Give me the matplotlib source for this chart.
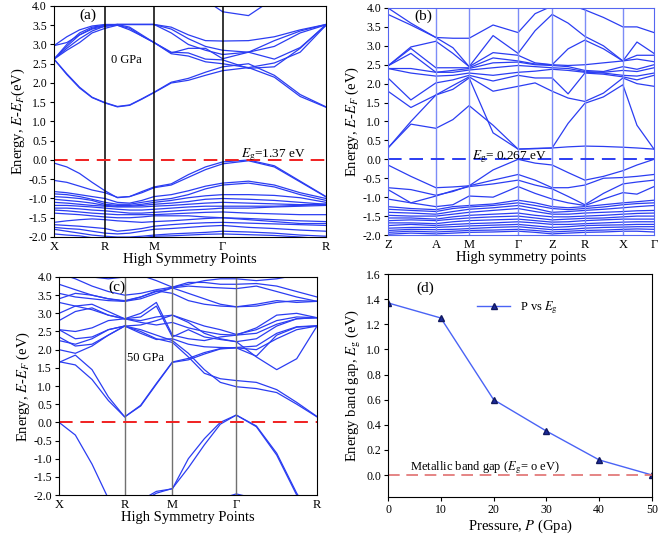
import numpy as np
import matplotlib
matplotlib.use("Agg")
import matplotlib.pyplot as plt

plt.rcParams['font.family'] = ['Liberation Serif', 'DejaVu Serif']
plt.rcParams['mathtext.fontset'] = 'stix'

# ---------- panel (a): 0 GPa ----------
a_sym = [0, 0.1875, 0.368, 0.62, 1.0]
a_sym_labels = ['X', 'R', 'M', 'Γ', 'R']
a_k = [0, 0.047, 0.094, 0.14, 0.1875, 0.233, 0.278, 0.323, 0.368,
       0.431, 0.494, 0.557, 0.62, 0.715, 0.81, 0.905, 1.0]
a_cond = [
    [2.62, 2.22, 1.87, 1.62, 1.48, 1.38, 1.42, 1.58, 1.75, 2.00, 2.07, 2.20, 2.32, 2.40, 2.15, 1.65, 1.37],
    [2.62, 2.24, 1.89, 1.63, 1.49, 1.39, 1.43, 1.59, 1.76, 2.02, 2.12, 2.28, 2.42, 2.50, 2.20, 1.70, 1.38],
    [2.62, 2.90, 3.15, 3.35, 3.48, 3.50, 3.38, 3.22, 3.05, 2.80, 2.78, 2.62, 2.60, 2.38, 2.42, 2.90, 3.52],
    [2.62, 3.00, 3.30, 3.45, 3.50, 3.52, 3.52, 3.52, 3.52, 3.45, 3.25, 3.10, 3.09, 3.10, 3.20, 3.38, 3.52],
    [2.97, 3.20, 3.38, 3.48, 3.52, 3.52, 3.52, 3.52, 3.52, 3.40, 3.15, 2.95, 2.85, 2.80, 3.10, 3.35, 3.52],
    [2.97, 3.05, 3.25, 3.42, 3.50, 3.52, 3.52, 3.52, 3.52, 3.30, 3.00, 2.85, 2.74, 2.80, 2.95, 3.30, 3.51],
    [2.62, 2.95, 3.25, 3.40, 3.47, 3.52, 3.45, 3.25, 3.05, 2.78, 2.90, 2.90, 2.63, 2.80, 2.62, 2.92, 3.50],
    [2.62, 2.85, 3.05, 3.30, 3.42, 3.50, 3.42, 3.22, 3.05, 2.76, 2.70, 2.55, 2.50, 2.40, 2.52, 2.80, 3.50],
    [4.60, 4.60, 4.60, 4.60, 4.60, 4.60, 4.60, 4.60, 4.60, 4.60, 4.40, 4.15, 3.85, 3.75, 4.20, 4.60, 4.60],
]
a_val = [
    [-0.08, -0.18, -0.35, -0.58, -0.80, -0.98, -0.95, -0.82, -0.70, -0.62, -0.38, -0.18, -0.05, 0.00, -0.15, -0.55, -0.95],
    [-0.53, -0.58, -0.68, -0.78, -0.85, -0.97, -0.95, -0.85, -0.72, -0.65, -0.45, -0.25, -0.10, -0.02, -0.18, -0.57, -0.96],
    [-0.82, -0.85, -0.90, -0.95, -1.00, -1.10, -1.12, -1.05, -0.95, -0.90, -0.80, -0.68, -0.60, -0.55, -0.65, -0.85, -1.00],
    [-0.88, -0.90, -0.95, -1.02, -1.10, -1.15, -1.15, -1.10, -1.05, -1.00, -0.90, -0.75, -0.65, -0.60, -0.70, -0.90, -1.05],
    [-0.95, -0.97, -1.00, -1.05, -1.15, -1.18, -1.18, -1.15, -1.10, -1.05, -0.98, -0.93, -0.90, -0.90, -0.92, -0.98, -1.10],
    [-1.02, -1.05, -1.08, -1.12, -1.18, -1.20, -1.20, -1.18, -1.15, -1.12, -1.08, -1.02, -1.00, -1.02, -1.05, -1.10, -1.15],
    [-1.10, -1.12, -1.15, -1.18, -1.20, -1.22, -1.22, -1.22, -1.20, -1.18, -1.15, -1.12, -1.10, -1.12, -1.14, -1.16, -1.15],
    [-1.18, -1.18, -1.20, -1.22, -1.25, -1.28, -1.30, -1.30, -1.28, -1.25, -1.22, -1.20, -1.20, -1.20, -1.20, -1.18, -1.15],
    [-1.25, -1.25, -1.27, -1.30, -1.32, -1.35, -1.38, -1.38, -1.36, -1.33, -1.30, -1.28, -1.25, -1.25, -1.22, -1.20, -1.18],
    [-1.30, -1.32, -1.35, -1.38, -1.40, -1.42, -1.42, -1.42, -1.42, -1.40, -1.38, -1.36, -1.35, -1.38, -1.40, -1.42, -1.42],
    [-1.38, -1.40, -1.42, -1.45, -1.48, -1.50, -1.50, -1.48, -1.45, -1.45, -1.45, -1.48, -1.50, -1.52, -1.55, -1.58, -1.60],
    [-1.62, -1.58, -1.55, -1.53, -1.55, -1.58, -1.60, -1.62, -1.60, -1.58, -1.55, -1.52, -1.50, -1.55, -1.60, -1.65, -1.65],
    [-1.68, -1.70, -1.72, -1.75, -1.78, -1.85, -1.82, -1.78, -1.72, -1.68, -1.65, -1.63, -1.62, -1.64, -1.66, -1.68, -1.70],
    [-1.75, -1.78, -1.80, -1.85, -1.90, -1.92, -1.90, -1.85, -1.80, -1.78, -1.75, -1.72, -1.70, -1.75, -1.78, -1.82, -1.85],
    [-1.80, -1.85, -1.90, -1.95, -1.98, -2.00, -2.00, -1.98, -1.95, -1.92, -1.90, -1.88, -1.85, -1.87, -1.90, -1.95, -1.98],
    [-1.92, -1.95, -1.97, -2.02, -2.05, -2.08, -2.05, -2.02, -1.98, -1.97, -1.95, -1.93, -1.92, -1.94, -1.96, -2.00, -2.05],
]

# ---------- panel (b) ----------
b_sym = [0, 0.18, 0.305, 0.489, 0.617, 0.74, 0.883, 1.0]
b_sym_labels = ['Z', 'A', 'M', 'Γ', 'Z', 'R', 'X', 'Γ']
b_k = [0, 0.086, 0.18, 0.244, 0.305, 0.395, 0.489, 0.553, 0.617, 0.677, 0.74, 0.81, 0.883, 0.936, 1.0]
b_cond = [
    [0.30, 0.93, 0.82, 1.05, 1.42, 0.90, 0.27, 0.28, 0.30, 0.33, 0.35, 0.34, 0.32, 0.30, 0.27],
    [0.30, 1.00, 1.70, 1.85, 2.15, 0.70, 0.27, 0.29, 0.30, 0.95, 1.48, 1.65, 1.97, 0.90, 0.27],
    [1.80, 1.37, 1.70, 1.95, 2.18, 1.80, 1.93, 2.02, 1.80, 1.62, 1.53, 1.75, 2.15, 2.00, 1.93],
    [2.15, 1.57, 2.02, 2.10, 2.22, 2.07, 2.22, 2.15, 2.15, 1.73, 2.28, 2.25, 2.18, 2.10, 2.22],
    [2.40, 2.28, 2.20, 2.22, 2.28, 2.22, 2.30, 2.33, 2.38, 2.35, 2.30, 2.28, 2.22, 2.20, 2.28],
    [2.40, 2.40, 2.30, 2.30, 2.36, 2.42, 2.48, 2.45, 2.42, 2.40, 2.32, 2.30, 2.35, 2.32, 2.42],
    [2.47, 2.80, 2.30, 2.35, 2.40, 2.55, 2.57, 2.50, 2.48, 2.45, 2.35, 2.32, 2.45, 2.38, 2.50],
    [2.47, 2.93, 2.42, 2.42, 2.42, 2.68, 2.60, 2.52, 2.50, 2.48, 2.50, 2.55, 2.60, 2.65, 2.58],
    [2.47, 2.97, 3.12, 2.80, 2.45, 2.82, 2.75, 2.55, 2.50, 2.92, 3.15, 2.92, 2.60, 2.75, 2.75],
    [3.83, 3.55, 3.22, 2.95, 2.45, 3.27, 2.80, 3.40, 3.83, 3.60, 3.25, 3.00, 2.60, 3.10, 2.80],
    [4.00, 3.60, 3.22, 3.20, 3.20, 3.55, 3.35, 3.85, 4.05, 4.30, 4.30, 4.30, 4.30, 4.30, 4.30],
    [4.30, 4.30, 4.30, 4.30, 4.30, 4.30, 4.30, 4.20, 4.05, 4.10, 3.95, 3.75, 3.50, 3.50, 3.35],
]
b_val = [
    [-0.15, -0.45, -0.75, -0.73, -0.70, -0.28, 0.00, -0.10, -0.15, -0.35, -0.55, -0.45, -0.30, -0.15, 0.00],
    [-0.75, -0.80, -0.95, -0.85, -0.70, -0.55, -0.40, -0.55, -0.75, -0.75, -0.68, -0.50, -0.48, -0.45, -0.40],
    [-0.80, -1.15, -0.97, -0.83, -0.72, -0.65, -0.55, -0.68, -0.78, -0.98, -1.20, -0.90, -0.65, -0.60, -0.55],
    [-1.05, -1.15, -1.25, -1.20, -0.97, -1.00, -0.72, -0.90, -1.05, -1.15, -1.22, -1.05, -0.88, -0.92, -0.72],
    [-1.25, -1.30, -1.33, -1.25, -1.22, -1.18, -1.08, -1.15, -1.25, -1.28, -1.25, -1.20, -1.15, -1.12, -1.08],
    [-1.32, -1.35, -1.38, -1.30, -1.26, -1.22, -1.15, -1.22, -1.30, -1.33, -1.30, -1.26, -1.20, -1.17, -1.15],
    [-1.40, -1.42, -1.45, -1.38, -1.32, -1.28, -1.22, -1.30, -1.40, -1.38, -1.35, -1.32, -1.28, -1.25, -1.22],
    [-1.48, -1.50, -1.50, -1.45, -1.40, -1.35, -1.30, -1.38, -1.45, -1.45, -1.42, -1.40, -1.38, -1.36, -1.35],
    [-1.55, -1.55, -1.58, -1.52, -1.48, -1.45, -1.42, -1.48, -1.52, -1.52, -1.50, -1.48, -1.45, -1.43, -1.42],
    [-1.62, -1.60, -1.62, -1.58, -1.55, -1.52, -1.50, -1.55, -1.60, -1.58, -1.56, -1.55, -1.52, -1.50, -1.50],
    [-1.68, -1.68, -1.70, -1.65, -1.62, -1.60, -1.58, -1.62, -1.66, -1.65, -1.62, -1.60, -1.58, -1.58, -1.58],
    [-1.75, -1.72, -1.75, -1.72, -1.70, -1.68, -1.65, -1.68, -1.72, -1.72, -1.70, -1.68, -1.66, -1.65, -1.65],
    [-1.82, -1.80, -1.80, -1.78, -1.76, -1.74, -1.72, -1.76, -1.80, -1.78, -1.75, -1.74, -1.73, -1.72, -1.72],
    [-1.88, -1.85, -1.86, -1.85, -1.83, -1.80, -1.78, -1.82, -1.86, -1.85, -1.82, -1.80, -1.79, -1.78, -1.78],
    [-1.93, -1.90, -1.92, -1.90, -1.88, -1.87, -1.85, -1.88, -1.92, -1.90, -1.88, -1.87, -1.85, -1.84, -1.85],
    [-1.98, -1.95, -1.97, -1.95, -1.93, -1.92, -1.90, -1.93, -1.97, -1.95, -1.93, -1.92, -1.90, -1.90, -1.92],
]

# ---------- panel (c): 50 GPa ----------
c_sym = [0, 0.2545, 0.4393, 0.687, 1.0]
c_sym_labels = ['X', 'R', 'M', 'Γ', 'R']
c_k = [0, 0.0633, 0.1279, 0.1912, 0.2545, 0.3165, 0.3773, 0.4393,
       0.5013, 0.5633, 0.6253, 0.687, 0.7649, 0.8437, 0.9212, 1.0]
c_cond = [
    [1.65, 1.85, 1.45, 0.70, 0.15, 0.45, 1.05, 1.65, 1.72, 1.88, 2.02, 2.05, 1.82, 2.40, 2.62, 2.65],
    [1.67, 1.58, 1.18, 0.60, 0.15, 0.47, 1.07, 1.66, 1.76, 1.92, 2.03, 2.06, 2.10, 2.45, 2.63, 2.66],
    [2.00, 1.90, 2.10, 2.40, 2.65, 2.55, 2.40, 2.25, 1.90, 1.45, 1.10, 0.98, 0.93, 0.82, 0.50, 0.15],
    [2.25, 2.15, 2.30, 2.55, 2.65, 2.50, 2.30, 2.20, 1.80, 1.35, 1.20, 1.15, 1.10, 0.90, 0.55, 0.16],
    [2.55, 2.30, 2.35, 2.55, 2.65, 2.68, 2.80, 2.95, 2.75, 2.45, 2.30, 2.22, 1.80, 1.45, 1.75, 2.65],
    [2.55, 2.50, 2.60, 2.80, 2.85, 2.75, 2.68, 2.75, 2.60, 2.50, 2.42, 2.40, 2.45, 2.70, 2.85, 2.88],
    [2.80, 3.05, 3.15, 2.95, 2.85, 2.90, 3.20, 2.35, 2.55, 2.35, 2.28, 2.22, 2.30, 2.65, 2.85, 2.88],
    [3.00, 3.20, 3.25, 3.05, 2.85, 3.00, 3.30, 2.40, 2.30, 2.25, 2.35, 2.40, 2.60, 2.95, 3.00, 2.88],
    [3.40, 3.55, 3.50, 3.40, 3.33, 3.40, 3.55, 3.70, 3.55, 3.40, 3.25, 3.18, 3.20, 3.30, 3.35, 3.33],
    [3.55, 3.45, 3.40, 3.35, 3.33, 3.45, 3.62, 3.55, 3.35, 3.25, 3.20, 3.18, 3.25, 3.35, 3.30, 3.33],
    [3.80, 3.65, 3.50, 3.40, 3.35, 3.45, 3.60, 3.70, 3.75, 3.72, 3.70, 3.68, 3.75, 3.60, 3.45, 3.33],
    [4.10, 3.95, 3.75, 3.60, 3.50, 3.55, 3.65, 3.72, 3.85, 3.85, 3.80, 3.80, 3.82, 3.75, 3.60, 3.45],
    [3.30, 3.20, 3.10, 2.95, 2.85, 2.80, 2.90, 2.95, 2.80, 2.65, 2.55, 2.42, 2.55, 2.80, 2.90, 2.88],
    [2.35, 2.10, 2.15, 2.40, 2.65, 2.45, 2.28, 2.30, 2.15, 2.08, 2.06, 2.05, 2.00, 2.30, 2.55, 2.65],
    [4.20, 4.10, 4.00, 3.95, 4.00, 4.05, 3.90, 3.72, 3.80, 3.90, 3.95, 3.95, 3.90, 3.95, 4.05, 4.20],
]
c_val = [
    [0.00, -0.35, -1.15, -2.10, -2.80, -3.00, -3.00, -3.00, -3.00, -3.00, -3.00, -3.00, -3.00, -3.00, -3.00, -3.00],
    [-3.00, -3.00, -3.00, -3.00, -2.50, -2.20, -1.95, -1.82, -1.25, -0.62, -0.05, 0.20, -0.10, -0.85, -1.95, -2.80],
    [-3.00, -3.00, -3.00, -3.00, -2.45, -2.15, -1.90, -1.83, -1.00, -0.45, 0.00, 0.20, -0.12, -0.90, -2.00, -2.80],
    [-3.00, -3.00, -3.00, -3.00, -3.00, -3.00, -3.00, -2.60, -2.40, -2.20, -2.10, -1.97, -2.10, -2.40, -2.80, -3.00],
]

# ---------- panel (d) ----------
pressure = [0, 10, 20, 30, 40, 50]
gap = [1.37, 1.25, 0.60, 0.35, 0.12, 0.0]

band_col = '#2b3df2'
fig = plt.figure(figsize=(6.61, 5.39), dpi=100)


def band_panel(rect, k, cond, val, sym, sym_labels, vcol, vlw, fermi_col, spine_col):
    ax = fig.add_axes(rect)
    for b in cond + val:
        ax.plot(k, b, color=band_col, lw=0.9)
    for s in sym[1:-1]:
        ax.axvline(s, color=vcol, lw=vlw)
    ax.axhline(0, color=fermi_col, lw=1.4, ls=(0, (7, 4)))
    ax.set_xlim(0, 1)
    ax.set_ylim(-2, 4)
    ax.set_yticks(np.arange(-2, 4.01, 0.5))
    ax.set_yticklabels([f'{v:.1f}' for v in np.arange(-2, 4.01, 0.5)])
    ax.set_xticks(sym, sym_labels)
    ax.tick_params(axis='x', length=0, labelsize=9, pad=3)
    ax.tick_params(axis='y', direction='out', length=3, labelsize=8.5, pad=2)
    for sp in ax.spines.values():
        sp.set_color(spine_col)
    return ax


# (a)
ax = band_panel([0.0817, 0.5603, 0.4115, 0.4286], a_k, a_cond, a_val, a_sym, a_sym_labels,
                'black', 1.1, '#f02020', 'black')
ax.set_ylabel(r'Energy, $E$-$E_F$(eV)', fontsize=10.5, labelpad=1)
ax.set_xlabel('High Symmetry Points', fontsize=10.5, labelpad=0)
ax.text(0.095, 3.77, '(a)', fontsize=11, va='center')
ax.text(0.21, 2.6, '0 GPa', fontsize=9, va='center')
ax.text(0.925, 0.14, r'$E_{\rm g}$=1.37 eV', fontsize=9.5, ha='right', va='center')

# (b)
ax = band_panel([0.587, 0.564, 0.4024, 0.4212], b_k, b_cond, b_val, b_sym, b_sym_labels,
                '#7c8cf7', 1.0, '#2b3df2', '#5566f0')
ax.set_ylabel(r'Energy, $E$-$E_F$ (eV)', fontsize=10.5, labelpad=1)
ax.set_xlabel('High symmetry points', fontsize=10.5, labelpad=0)
ax.text(0.10, 3.77, '(b)', fontsize=11, va='center')
ax.text(0.316, 0.07, r'$E_{\rm g}$= 0.267 eV', fontsize=9.5, va='center')

# (c)
ax = band_panel([0.0893, 0.0816, 0.3903, 0.4045], c_k, c_cond, c_val, c_sym, c_sym_labels,
                '#707070', 1.0, '#f02020', 'black')
ax.set_ylabel(r'Energy, $E$-$E_F$ (eV)', fontsize=10.5, labelpad=1)
ax.set_xlabel('High Symmetry Points', fontsize=10.5, labelpad=0)
ax.text(0.19, 3.72, '(c)', fontsize=11, va='center')
ax.text(0.265, 1.77, '50 GPa', fontsize=9, va='center')

# (d)
ax = fig.add_axes([0.587, 0.0779, 0.3994, 0.4137])
ax.plot(pressure, gap, color='#4a63f5', lw=1.0, marker='^', ms=5,
        mfc='#1c2a9c', mec='#101860', label=r'P vs $E_{\rm g}$')
ax.axhline(0, color='#e07070', lw=1.2, ls=(0, (7, 4)))
ax.set_xlim(0, 50)
ax.set_ylim(-0.175, 1.6)
ax.set_xticks(range(0, 51, 10))
ax.set_yticks(np.arange(0, 1.61, 0.2))
ax.set_yticklabels([f'{v:.1f}' for v in np.arange(0, 1.61, 0.2)])
ax.tick_params(direction='out', length=3, labelsize=8.5, pad=2)
ax.set_xlabel(r'Pressure, $P$ (Gpa)', fontsize=10.5, labelpad=1)
ax.set_ylabel(r'Energy band gap, $E_{\rm g}$ (eV)', fontsize=10.5, labelpad=2)
ax.text(7.0, 1.49, '(d)', fontsize=11, ha='center', va='center')
ax.text(4.2, 0.055, r'Metallic band gap ($E_{\rm g}$= o eV)', fontsize=9, va='center')
ax.legend(loc='center left', bbox_to_anchor=(0.32, 0.848), frameon=False,
          fontsize=9, handlelength=2.6, borderaxespad=0)

fig.savefig('out.png', dpi=100)
